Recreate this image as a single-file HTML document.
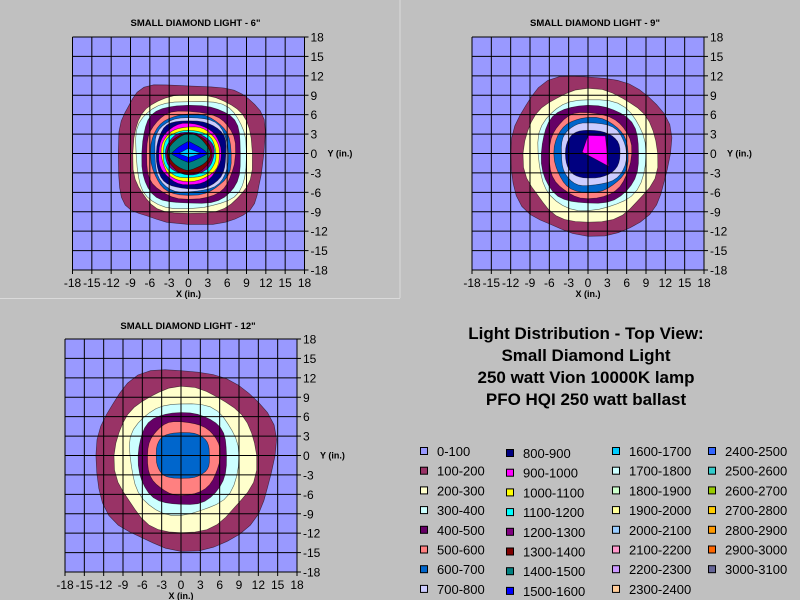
<!DOCTYPE html>
<html><head><meta charset="utf-8">
<style>
html,body{margin:0;padding:0;background:#c0c0c0;}
svg{display:block;font-family:"Liberation Sans",Arial,sans-serif;}
</style></head>
<body>
<svg id="s" width="800" height="600" xmlns="http://www.w3.org/2000/svg">
<rect x="0" y="0" width="800" height="600" fill="#c0c0c0"/>
<line x1="400" y1="0" x2="400" y2="298" stroke="#dadada" stroke-width="1"/>
<line x1="0" y1="298.5" x2="400" y2="298.5" stroke="#dadada" stroke-width="1"/>
<g id="c"></g>
<g font-weight="bold" font-size="17" text-anchor="middle" fill="#000">
<text x="586" y="339">Light Distribution - Top View:</text>
<text x="586" y="361">Small Diamond Light</text>
<text x="586" y="383">250 watt Vion 10000K lamp</text>
<text x="586" y="405">PFO HQI 250 watt ballast</text>
</g>
<g id="leg" font-size="13" fill="#000"></g>
</svg>
<script>
var NS="http://www.w3.org/2000/svg";
function el(p,t,a,txt){var e=document.createElementNS(NS,t);for(var k in a)e.setAttribute(k,a[k]);if(txt!=null)e.textContent=txt;p.appendChild(e);return e;}
var C=document.getElementById("c");
function ring(R,L,T,B,n,wob,seed){
  var pts=[],N=40;
  for(var i=0;i<N;i++){
    var a=i/N*2*Math.PI,c=Math.cos(a),s=Math.sin(a);
    var rx=c>=0?R:L,ry=s>=0?T:B;
    var e=2/n;
    var w=1+wob*Math.sin(a*4+seed)*0.5+wob*Math.sin(a*7+seed*2)*0.3;
    pts.push([rx*Math.sign(c)*Math.pow(Math.abs(c),e)*w, ry*Math.sign(s)*Math.pow(Math.abs(s),e)*w]);
  }
  return pts;
}
function chart(x0,y0,title,ty,rings){
  var W=232,H=233,sx=W/36,sy=H/36,cx=x0+W/2,cy=y0+H/2;
  var g=el(C,"g",{});
  el(g,"rect",{x:x0,y:y0,width:W,height:H,fill:"#9999ff"});
  function P(p){return p.map(function(q){return (cx+q[0]*sx).toFixed(1)+","+(cy-q[1]*sy).toFixed(1)}).join(" ");}
  rings.forEach(function(r,i){
    var pts=r.pts||ring(r.R,r.L,r.T,r.B,r.n||3,r.w||0.03,i*1.7);
    el(g,"polygon",{points:P(pts),fill:r.c,stroke:"#000","stroke-width":0.6,"stroke-opacity":0.6});
  });
  for(var k=0;k<=12;k++){
    var x=x0+k*W/12,y=y0+k*H/12;
    el(g,"line",{x1:x,y1:y0,x2:x,y2:y0+H,stroke:"#000","stroke-width":1});
    el(g,"line",{x1:x0,y1:y,x2:x0+W,y2:y,stroke:"#000","stroke-width":1});
    el(g,"line",{x1:x0+W,y1:y,x2:x0+W+4,y2:y,stroke:"#000","stroke-width":1});
    el(g,"line",{x1:x,y1:y0+H,x2:x,y2:y0+H+4,stroke:"#000","stroke-width":1});
    el(g,"text",{x:x0+W+6,y:y+4.5,"font-size":12},String(18-3*k));
    el(g,"text",{x:x,y:y0+H+17,"font-size":12,"text-anchor":"middle"},String(-18+3*k));
  }
  el(g,"text",{x:cx,y:y0+H+27,"font-size":9,"font-weight":"bold","text-anchor":"middle"},"X (in.)");
  el(g,"text",{x:x0+W+23,y:cy+3,"font-size":9,"font-weight":"bold"},"Y (in.)");
  el(g,"text",{x:cx+7,y:ty,"font-size":9.5,"font-weight":"bold","text-anchor":"middle"},title);
}
chart(72.5,37,'SMALL DIAMOND LIGHT - 6"',26,[
 {c:"#993366",R:11.7,L:10.9,T:10.6,B:10.8,n:3.2,w:0.05},
 {c:"#ffffcc",R:9.8,L:8.5,T:8.9,B:9.2,n:2.8},
 {c:"#ccffff",R:9.0,L:8.2,T:8.1,B:8.5,n:2.8},
 {c:"#660066",R:8.2,L:7.3,T:7.5,B:7.8,n:2.7},
 {c:"#ff8080",R:7.2,L:6.5,T:6.5,B:7.0,n:2.6},
 {c:"#0066cc",R:6.6,L:5.8,T:6.0,B:6.4,n:2.5},
 {c:"#ccccff",R:6.2,L:5.3,T:5.6,B:6.0,n:2.5},
 {c:"#000080",R:5.9,L:5.0,T:5.1,B:5.5,n:2.5},
 {c:"#ff00ff",R:5.0,L:4.6,T:4.6,B:4.8,n:2.3},
 {c:"#ffff00",R:4.8,L:4.2,T:4.1,B:4.3,n:2.3},
 {c:"#00ffff",R:4.3,L:4.0,T:3.6,B:3.8,n:2.2},
 {c:"#800080",R:4.0,L:3.6,T:3.3,B:3.3,n:2.1},
 {c:"#800000",R:3.6,L:3.3,T:3.1,B:3.2,n:2},
 {c:"#008080",R:3.4,L:3.2,T:3.1,B:2.6,n:1.6},
 {c:"#0000ff",R:3.0,L:2.7,T:1.9,B:1.4,n:1.1,w:0},
 {c:"#00ccff",R:2.0,L:1.6,T:0.8,B:0.6,n:1,w:0}
]);
chart(472,37,'SMALL DIAMOND LIGHT - 9"',26,[
 {c:"#993366",R:12.8,L:12.0,T:12.0,B:12.6,n:2.3,w:0.05},
 {c:"#ffffcc",R:10.6,L:9.8,T:9.7,B:10.5,n:2.3,w:0.05},
 {c:"#ccffff",R:9.0,L:7.8,T:8.4,B:8.8,n:2.3},
 {c:"#660066",R:8.0,L:7.3,T:7.5,B:7.8,n:2.3},
 {c:"#ff8080",R:6.7,L:6.0,T:6.3,B:6.9,n:2.3},
 {c:"#0066cc",R:6.2,L:5.2,T:5.5,B:6.0,n:2.3},
 {c:"#ccccff",R:6.0,L:4.2,T:4.8,B:5.0,n:2.3},
 {c:"#000080",R:5.0,L:3.5,T:3.6,B:3.8,n:2.4,w:0.01},
 {c:"#ff00ff",pts:[[0,2.8],[2.7,2.7],[3.2,-2],[1,-0.8],[-0.9,0.2]]}
]);
chart(65,339,'SMALL DIAMOND LIGHT - 12"',329,[
 {c:"#993366",R:14.6,L:13.2,T:13.3,B:14.6,n:2.2,w:0.05},
 {c:"#ffffcc",R:11.5,L:10.1,T:10.3,B:11.8,n:2.2,w:0.05},
 {c:"#ccffff",R:9.0,L:8.0,T:8.1,B:9.2,n:2.2,w:0.04},
 {c:"#660066",R:7.2,L:6.7,T:6.7,B:7.7,n:2.3},
 {c:"#ff8080",R:6.0,L:5.2,T:5.2,B:6.1,n:2.3},
 {c:"#0066cc",R:4.4,L:3.8,T:3.5,B:3.5,n:3,w:0.02}
]);
var L=[["0-100","#9999ff"],["100-200","#993366"],["200-300","#ffffcc"],["300-400","#ccffff"],["400-500","#660066"],["500-600","#ff8080"],["600-700","#0066cc"],["700-800","#ccccff"],
["800-900","#000080"],["900-1000","#ff00ff"],["1000-1100","#ffff00"],["1100-1200","#00ffff"],["1200-1300","#800080"],["1300-1400","#800000"],["1400-1500","#008080"],["1500-1600","#0000ff"],
["1600-1700","#00ccff"],["1700-1800","#ccffff"],["1800-1900","#ccffcc"],["1900-2000","#ffff99"],["2000-2100","#99ccff"],["2100-2200","#ff99cc"],["2200-2300","#cc99ff"],["2300-2400","#ffcc99"],
["2400-2500","#3366ff"],["2500-2600","#33cccc"],["2600-2700","#99cc00"],["2700-2800","#ffcc00"],["2800-2900","#ff9900"],["2900-3000","#ff6600"],["3000-3100","#666699"]];
var G=document.getElementById("leg"),cols=[424,510,616,712],dy=[0,2,0,0];
L.forEach(function(it,i){
  var col=Math.floor(i/8),row=i%8,y=451+row*19.7+dy[col];
  el(G,"rect",{x:cols[col]-3.5,y:y-3.5,width:7,height:7,fill:it[1],stroke:"#000","stroke-width":1});
  el(G,"text",{x:cols[col]+13,y:y+5},it[0]);
});
</script>
</body></html>
